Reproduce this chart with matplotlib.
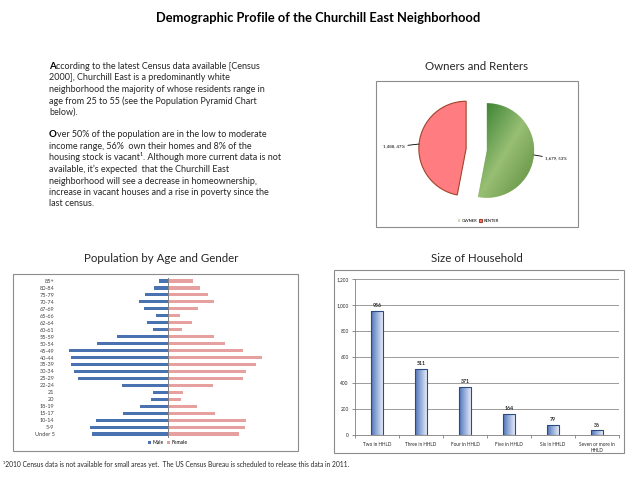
import matplotlib
matplotlib.use('Agg')
import matplotlib.pyplot as plt
import numpy as np
from matplotlib.colors import LinearSegmentedColormap
from matplotlib.patches import Rectangle

W, H = 638, 479
plt.rcParams['font.family'] = ['Lato', 'DejaVu Sans']

# data
age_groups = ['85+', '80-84', '75-79', '70-74', '67-69', '65-66', '62-64', '60-61',
              '55-59', '50-54', '45-49', '40-44', '35-39', '30-34', '25-29', '22-24',
              '21', '20', '18-19', '15-17', '10-14', '5-9', 'Under 5']
male = [27, 42, 70, 87, 73, 37, 64, 46, 153, 214, 298, 292, 292, 283, 271, 138,
        46, 52, 84, 136, 217, 235, 229]
female = [76, 95, 119, 137, 89, 35, 71, 41, 137, 170, 224, 281, 263, 233, 224, 134,
          44, 38, 86, 140, 233, 230, 212]

hh_labels = ['Two in HHLD', 'Three in HHLD', 'Four in HHLD', 'Five in HHLD',
             'Six in HHLD', 'Seven or more in\nHHLD']
hh_values = [956, 511, 371, 164, 79, 36]

tenure_labels = ['OWNER', 'RENTER']
tenure_values = [1679, 1488]

fig = plt.figure(figsize=(W / 100, H / 100), dpi=100)
renderer = fig.canvas.get_renderer()


def px_axes(l, t, r, b):
    return fig.add_axes([l / W, 1 - b / H, (r - l) / W, (b - t) / H])


def frame(l, t, r, b):
    fig.add_artist(Rectangle((l / W, 1 - b / H), (r - l) / W, (b - t) / H,
                             transform=fig.transFigure, fill=False,
                             ec='#8c8c8c', lw=0.8))


def ftext(x, y, s, **kw):
    return fig.text(x / W, 1 - y / H, s, **kw)


# ---- titles
ftext(318, 18, 'Demographic Profile of the Churchill East Neighborhood',
      ha='center', va='center', fontsize=9.3, fontweight='bold')
ftext(477, 66, 'Owners and Renters', ha='center', va='center', fontsize=8.3, color='#262626')
ftext(161, 258, 'Population by Age and Gender', ha='center', va='center', fontsize=8.3, color='#262626')
ftext(477, 258, 'Size of Household', ha='center', va='center', fontsize=8.3, color='#262626')

# ---- paragraph text
para1 = ['According to the latest Census data available [Census',
         '2000], Churchill East is a predominantly white',
         'neighborhood the majority of whose residents range in',
         'age from 25 to 55 (see the Population Pyramid Chart',
         'below).']
para2 = ['Over 50% of the population are in the low to moderate',
         'income range, 56%  own their homes and 8% of the',
         'housing stock is vacant\u00b9. Although more current data is not',
         'available, it\u2019s expected  that the Churchill East',
         'neighborhood will see a decrease in homeownership,',
         'increase in vacant houses and a rise in poverty since the',
         'last census.']


def para(lines, y0, step=11.5):
    for i, line in enumerate(lines):
        y = y0 + i * step
        if i == 0:
            t0 = ftext(49, y, line[0], fontsize=7.0, fontweight='bold', va='baseline')
            w = t0.get_window_extent(renderer=renderer).width
            ftext(49 + w, y, line[1:], fontsize=6.45, va='baseline', color='#262626')
        else:
            ftext(49, y, line, fontsize=6.45, va='baseline', color='#262626')


para(para1, 69)
para(para2, 137.5)

# ---- footnote
ftext(3, 464, '\u00b92010 Census data is not available for small areas yet.  The US Census Bureau is scheduled to release this data in 2011.',
      fontsize=4.8, va='center', color='#262626')

# ---- pie chart
frame(376, 81, 578, 227)
ax = px_axes(411.5, 84.5, 541.5, 214.5)
wedges, _ = ax.pie(tenure_values, startangle=90, counterclock=False, explode=[0.22, 0.22],
                   colors=['#c9dcb8', '#ff7c80'], radius=1,
                   wedgeprops=dict(linewidth=0.8))
wedges[0].set_edgecolor('none')
wedges[1].set_edgecolor('#a0442c')
lim = 65 / 47.3

# gradient on owner slice: dark top-left, light middle, darker bottom-right
green = LinearSegmentedColormap.from_list('g', ['#2f7a2c', '#98bf74', '#5a8a3a'])
gx, gy = np.meshgrid(np.linspace(0, 1, 200), np.linspace(0, 1, 200))
grad = (gx + gy) / 2
bb = wedges[0].get_path().get_extents(wedges[0].get_patch_transform())
im = ax.imshow(grad, cmap=green, extent=[bb.x0, bb.x1, bb.y0, bb.y1], origin='upper',
               aspect='auto', zorder=wedges[0].get_zorder() + 0.1)
im.set_clip_path(wedges[0])
ax.set_xlim(-lim, lim)
ax.set_ylim(-lim, lim)
ax.set_aspect('equal')

total = sum(tenure_values)
for w, v, tx, ha in zip(wedges, tenure_values, [1.45, -1.51], ['left', 'right']):
    mid = np.deg2rad((w.theta1 + w.theta2) / 2)
    cx, cy = w.center
    ex, ey = cx + w.r * np.cos(mid), cy + w.r * np.sin(mid)
    ty = ey - 0.08 if ha == 'left' else ey - 0.06
    ax.annotate(f'{v:,}, {round(100 * v / total)}%', xy=(ex, ey), xytext=(tx, ty),
                ha=ha, va='center', fontsize=3.2, annotation_clip=False,
                arrowprops=dict(arrowstyle='-', color='black', lw=0.6,
                                shrinkA=0, shrinkB=0))
ax.legend(wedges, tenure_labels, loc='center', bbox_to_anchor=(478 / W, 1 - 221 / H),
          bbox_transform=fig.transFigure, ncol=2, frameon=False, fontsize=3,
          handlelength=0.6, handleheight=0.6, columnspacing=0.6, handletextpad=0.3)

# ---- population pyramid
frame(13, 274, 298, 451)
ax = px_axes(60, 277.5, 276, 437.5)
y = np.arange(len(age_groups))
ax.barh(y, [-m for m in male], height=0.45, color='#4a72b0', label='Male')
ax.barh(y, female, height=0.45, color='#e6a0a0', label='Female')
ax.set_ylim(len(age_groups) - 0.5, -0.5)
ax.set_xlim(-324, 324)
ax.axvline(0, color='#7f7f7f', lw=0.7)
ax.set_yticks(y)
ax.set_yticklabels(age_groups, fontsize=4, color='#404040')
ax.set_xticks([])
ax.tick_params(axis='y', length=0, pad=4)
for s in ax.spines.values():
    s.set_visible(False)
ax.legend(loc='center', bbox_to_anchor=(168 / W, 1 - 443 / H), bbox_transform=fig.transFigure,
          ncol=2, frameon=False, fontsize=3.6, handlelength=0.6, handleheight=0.6,
          columnspacing=0.6, handletextpad=0.3)

# ---- household size
frame(334, 270, 624, 453)
ax = px_axes(355, 279, 619, 435)
x = np.arange(len(hh_labels))
bars = ax.bar(x, hh_values, width=0.28, color='none', edgecolor='#2b4a80', lw=0.8, zorder=3)
blue = LinearSegmentedColormap.from_list('b', ['#4f73b5', '#9fb5de', '#eef2fa'])
hgrad = np.linspace(0, 1, 100).reshape(1, -1)
for b in bars:
    im = ax.imshow(hgrad, cmap=blue, extent=[b.get_x(), b.get_x() + b.get_width(), 0, b.get_height()],
                   aspect='auto', zorder=2.5)
    im.set_clip_path(b)
    ax.text(b.get_x() + b.get_width() / 2, b.get_height() + 18, f'{int(b.get_height())}',
            ha='center', va='bottom', fontsize=3.8, fontweight='bold', color='#262626')
ax.set_xlim(-0.5, len(hh_labels) - 0.5)
ax.set_ylim(0, 1200)
ax.set_yticks(range(0, 1201, 200))
ax.set_yticklabels([f'{v:,}' for v in range(0, 1201, 200)], fontsize=3.4, color='#262626')
ax.set_xticks(x)
ax.set_xticklabels(hh_labels, fontsize=3.4, color='#262626', va='top')
ax.set_xticks(np.arange(-0.5, len(hh_labels)), minor=True)
ax.tick_params(axis='x', which='major', length=0, pad=5)
ax.tick_params(axis='x', which='minor', length=2.5, color='#7f7f7f', width=0.6)
ax.tick_params(axis='y', length=2.5, color='#7f7f7f', width=0.6, pad=2)
ax.grid(axis='y', color='#8c8c8c', lw=0.6)
ax.set_axisbelow(True)
for k in ['top', 'right']:
    ax.spines[k].set_visible(False)
for k in ['left', 'bottom']:
    ax.spines[k].set_color('#7f7f7f')
    ax.spines[k].set_linewidth(0.6)

fig.savefig('out.png', dpi=100)
